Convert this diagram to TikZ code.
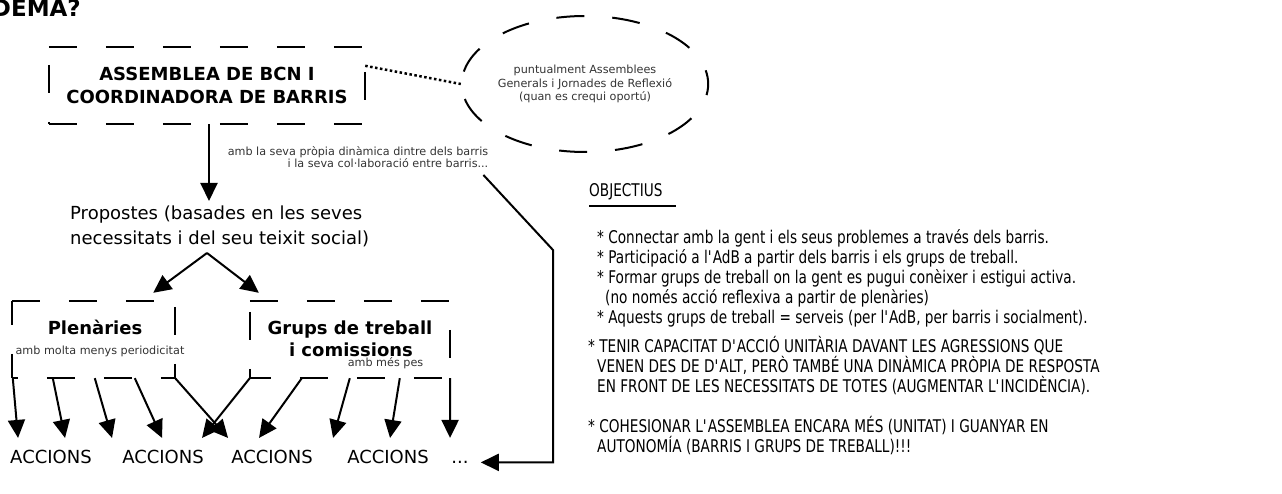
\documentclass[tikz,border=0pt]{standalone}
\usepackage{fontspec}
\setmainfont{DejaVu Sans}
\newfontfamily\condfont{DejaVu Sans}[FakeStretch=0.78]
\usetikzlibrary{arrows.meta,shapes.geometric,calc}
\newcommand\apos{\textquotesingle}
\begin{document}
\begin{tikzpicture}[x=1pt,y=-1pt,
  dashln/.style={line width=2.4pt, dash pattern=on 28pt off 29pt},
  arr/.style={line width=2pt, -{Triangle[length=18pt,width=17pt]}},
  smalltxt/.style={font=\fontsize{11.2}{13.5}\selectfont, text=black!80},
  bigtxt/.style={font=\fontsize{18}{25}\selectfont},
  boldtxt/.style={font=\fontsize{18}{23}\selectfont\bfseries},
  objf/.style={font=\condfont\fontsize{17.5}{20}\selectfont, align=left, anchor=base west, inner sep=0},
  boxn/.style={minimum height=77pt, inner sep=0}
]
\useasboundingbox (0,0) rectangle (1282,494);

% title
\node[font=\fontsize{23}{27}\selectfont\bfseries, anchor=base east, inner sep=0] (title) at (81,17) {DEMA?};

% main box
\node[boxn, minimum width=316pt, boldtxt, align=center] (asm) at (207,85.5) {ASSEMBLEA DE BCN I\\COORDINADORA DE BARRIS};
\draw[dashln] (asm.north west) -- (asm.north east);
\draw[dashln, dash phase=32pt] (asm.north east) -- (asm.south east);
\draw[dashln] (asm.south west) -- (asm.south east);
\draw[dashln, dash phase=39pt] (asm.north west) -- (asm.south west);

% ellipse
\node[ellipse, draw, line width=2pt, dash pattern=on 28pt off 28pt, dash phase=14pt,
      minimum width=244pt, minimum height=136pt, inner sep=0, smalltxt, align=center]
      (ell) at (585,84) {puntualment Assemblees\\Generals i Jornades de Reflexió\\(quan es crequi oportú)};
\draw[line width=2.5pt, dash pattern=on 2.5pt off 2.5pt] ($(asm.north east)+(0,19)$) -- (ell.west);

% dynamics text
\node[smalltxt, align=right, inner sep=0, font=\fontsize{11.2}{12.5}\selectfont] (dyn) at (358,157)
  {amb la seva pròpia dinàmica dintre dels barris\\i la seva col·laboració entre barris...};

% propostes (base anchor = last line)
\node[bigtxt, align=left, anchor=base west, inner sep=0] (prop) at (70,244.5)
  {Propostes (basades en les seves\\necessitats i del seu teixit social)};
\coordinate (proptop) at (209,201);
\draw[arr] (asm.south -| proptop) -- (proptop);

% lower boxes
\node[boxn, minimum width=163pt] (plen) at (93.5,339.5) {};
\node[boxn, minimum width=200pt] (grups) at (350,339.5) {};
\draw[dashln] (plen.north west) -- (plen.north east);
\draw[dashln, dash phase=51pt] (plen.north east) -- (plen.south east);
\draw[dashln, dash phase=22pt] (plen.south west) -- (plen.south east);
\draw[dashln, dash phase=4pt] (plen.north west) -- (plen.south west);
\draw[dashln] (grups.north west) -- (grups.north east);
\draw[dashln, dash phase=28pt] (grups.north east) -- (grups.south east);
\draw[dashln, dash phase=7pt] (grups.south west) -- (grups.south east);
\draw[dashln, dash phase=46pt] (grups.north west) -- (grups.south west);

\node[boldtxt, anchor=base] (plenl) at (95,334.5) {Plenàries};
\node[smalltxt, anchor=base] (plens) at (100,354) {amb molta menys periodicitat};
\node[boldtxt, anchor=base] (grupsl) at (350,334.5) {Grups de treball};
\node[boldtxt, anchor=base] (grupsl2) at (351,356.5) {i comissions};
\node[smalltxt, anchor=base] (grupss) at (385.5,366.5) {amb més pes};

% split arrows
\coordinate (split) at (207,253);
\draw[arr] (split) -- ($(plen.north east)+(-22,-8)$);
\draw[arr] (split) -- ($(grups.north west)+(9,-8)$);

% accions
\node[bigtxt, inner sep=0, anchor=base] (acc1) at (51,463.5) {ACCIONS};
\node[bigtxt, inner sep=0, anchor=base] (acc2) at (163,463.5) {ACCIONS};
\node[bigtxt, inner sep=0, anchor=base] (acc3) at (272,463.5) {ACCIONS};
\node[bigtxt, inner sep=0, anchor=base] (acc4) at (388,463.5) {ACCIONS};
\node[bigtxt, inner sep=0, anchor=base] (dots) at (460,463.5) {...};

\draw[arr] ($(plen.south west)+(1,0)$) -- ($(acc1.north west)+(8,-12)$);
\draw[arr] ($(plen.south west)+(41,0)$) -- ($(acc1.north west)+(55,-12)$);
\draw[arr] ($(plen.south west)+(83,0)$) -- ($(acc2.north west)+(-10,-12)$);
\draw[arr] ($(plen.south west)+(123,0)$) -- ($(acc2.north west)+(40,-12)$);
\draw[arr] (plen.south east) -- ($(acc3.north west)+(-3,-12)$);
\draw[arr] (grups.south west) -- ($(acc2.north west)+(80,-12)$);
\draw[arr] ($(grups.south west)+(52,0)$) -- ($(acc3.north west)+(28,-12)$);
\draw[arr] ($(grups.south west)+(100,0)$) -- ($(acc4.north west)+(-14,-12)$);
\draw[arr] ($(grups.south west)+(150,0)$) -- ($(acc4.north west)+(43,-12)$);
\draw[arr] (grups.south east) -- ($(acc4.north west)+(103,-12)$);

% right connector
\coordinate (dynstart) at ($(dyn.south east)+(-5,7)$);
\coordinate (bend) at (553,250);
\draw[arr] (dynstart) -- (bend) |- ([xshift=12pt]dots.east);

% objectives (base anchor = last line)
\node[objf] (objt) at (589,196.4) {OBJECTIUS};
\draw[line width=2pt] ($(objt.base west)+(0,10)$) -- ($(objt.base west)+(87,10)$);
\node[objf] (o1) at (597,323.4) {* Connectar amb la gent i els seus problemes a través dels barris.\\
* Participació a l\apos AdB a partir dels barris i els grups de treball.\\
* Formar grups de treball on la gent es pugui conèixer i estigui activa.\\
\hspace*{8pt}(no només acció reflexiva a partir de plenàries)\\
* Aquests grups de treball = serveis (per l\apos AdB, per barris i socialment).};
\node[objf] (o2) at (588,392.9) {* TENIR CAPACITAT D\apos ACCIÓ UNITÀRIA DAVANT LES AGRESSIONS QUE\\
\hspace*{9pt}VENEN DES DE D\apos ALT, PERÒ TAMBÉ UNA DINÀMICA PRÒPIA DE RESPOSTA\\
\hspace*{9pt}EN FRONT DE LES NECESSITATS DE TOTES (AUGMENTAR L\apos INCIDÈNCIA).};
\node[objf] (o3) at (588,452.4) {* COHESIONAR L\apos ASSEMBLEA ENCARA MÉS (UNITAT) I GUANYAR EN\\
\hspace*{9pt}AUTONOMÍA (BARRIS I GRUPS DE TREBALL)!!!};
\end{tikzpicture}
\end{document}
